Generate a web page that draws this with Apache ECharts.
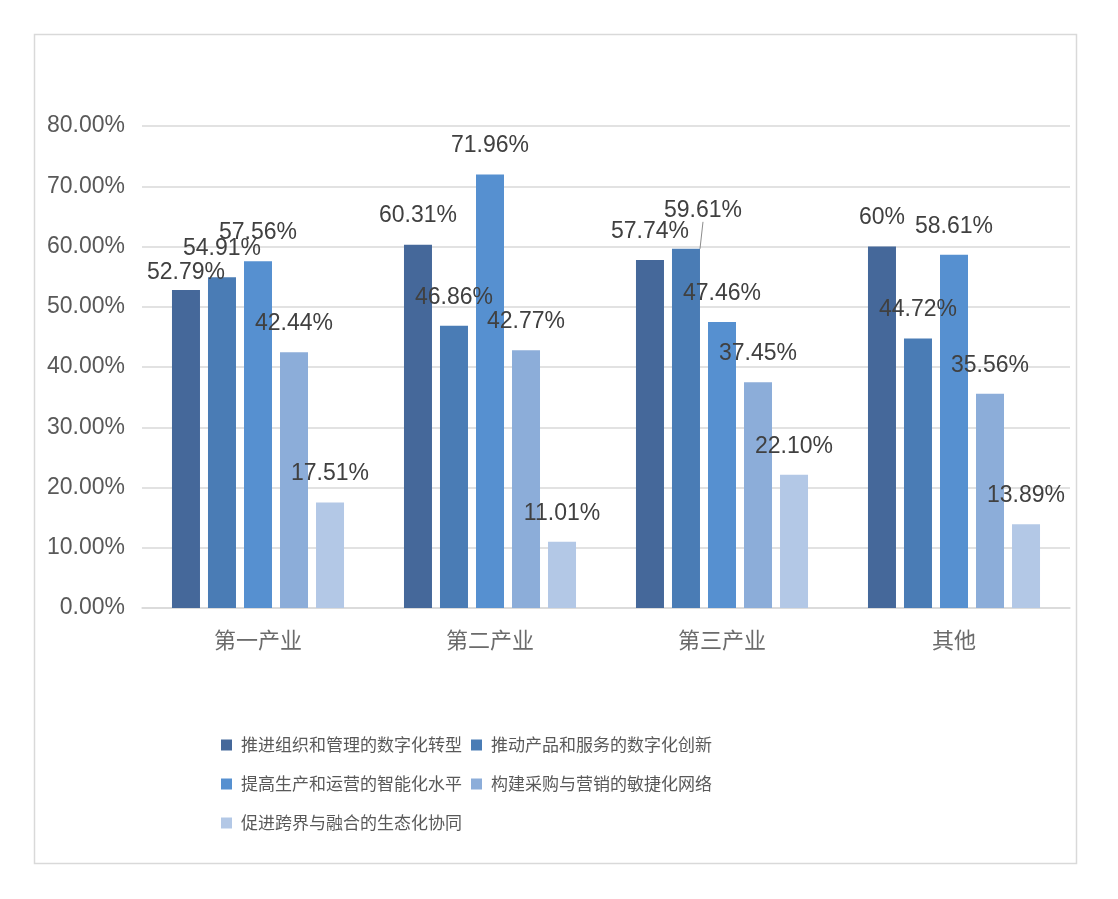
<!DOCTYPE html>
<html><head><meta charset="utf-8">
<script src="https://cdn.jsdelivr.net/npm/echarts@6/dist/echarts.min.js"></script>
<style>html,body{margin:0;padding:0;background:#fff}#c{width:1118px;height:899px}</style>
</head><body><div id="c"></div>
<script>
const categories = ['第一产业', '第二产业', '第三产业', '其他'];
const seriesNames = ['推进组织和管理的数字化转型', '推动产品和服务的数字化创新', '提高生产和运营的智能化水平', '构建采购与营销的敏捷化网络', '促进跨界与融合的生态化协同'];
const s1 = [52.79, 60.31, 57.74, 60];
const s2 = [54.91, 46.86, 59.61, 44.72];
const s3 = [57.56, 71.96, 47.46, 58.61];
const s4 = [42.44, 42.77, 37.45, 35.56];
const s5 = [17.51, 11.01, 22.10, 13.89];
const yTicks = [0, 10, 20, 30, 40, 50, 60, 70, 80];

const colors = ['#45689a', '#4a7cb5', '#5690d0', '#8cadd9', '#b3c8e6'];
const values = [s1, s2, s3, s4, s5];
const fmt = v => (v === Math.round(v) ? v + '%' : v.toFixed(2) + '%');

const chart = echarts.init(document.getElementById('c'));
const series = values.map((arr, i) => ({
  name: seriesNames[i],
  type: 'bar',
  barWidth: 28,
  barGap: '28.6%',
  itemStyle: { color: colors[i] },
  data: arr.map((v, j) => ({
    value: v,
    labelLine: { show: i === 1 && j === 2 }
  })),
  label: {
    show: true, position: 'top', distance: 17,
    fontFamily: 'Liberation Sans, Arial, sans-serif', fontSize: 23, color: '#404040',
    formatter: p => fmt(p.value)
  },
  labelLine: { show: false, lineStyle: { color: '#8c8c8c', width: 1 } },
  labelLayout: function (p) {
    if (i === 0 && p.dataIndex === 0) return { dy: 11 };
    if (i === 1 && p.dataIndex === 2) return { dx: 17, dy: -10 };
    return {};
  }
}));

chart.setOption({
  animation: false,
  backgroundColor: '#fff',
  graphic: [{
    type: 'rect', left: 32, top: 32, shape: { width: 1042, height: 829 },
    style: { fill: 'none', stroke: '#d9d9d9', lineWidth: 1.5 }, silent: true
  }],
  grid: { left: 142, right: 48, top: 126, bottom: 291, containLabel: false },
  xAxis: {
    type: 'category', data: categories,
    axisTick: { show: false },
    axisLine: { lineStyle: { color: '#d9d9d9', width: 1.5 } },
    axisLabel: { fontFamily: 'Noto Sans CJK SC', fontSize: 22, color: '#6b6b6b', margin: 21 }
  },
  yAxis: {
    type: 'value', min: yTicks[0], max: yTicks[yTicks.length - 1], interval: 10,
    axisLine: { show: false }, axisTick: { show: false },
    splitLine: { lineStyle: { color: '#d9d9d9', width: 1.5 } },
    axisLabel: { fontFamily: 'Liberation Sans, Arial, sans-serif', fontSize: 23, color: '#595959', margin: 17,
      formatter: v => v.toFixed(2) + '%' }
  },
  legend: {
    data: seriesNames, left: 216, top: 725, width: 520,
    orient: 'horizontal', icon: 'rect', itemWidth: 11, itemHeight: 11, itemGap: 9,
    textStyle: { fontFamily: 'Noto Sans CJK SC', fontSize: 17, color: '#595959', lineHeight: 30, padding: [0, 0, 0, 4] }
  },
  series: series
});
</script></body></html>
